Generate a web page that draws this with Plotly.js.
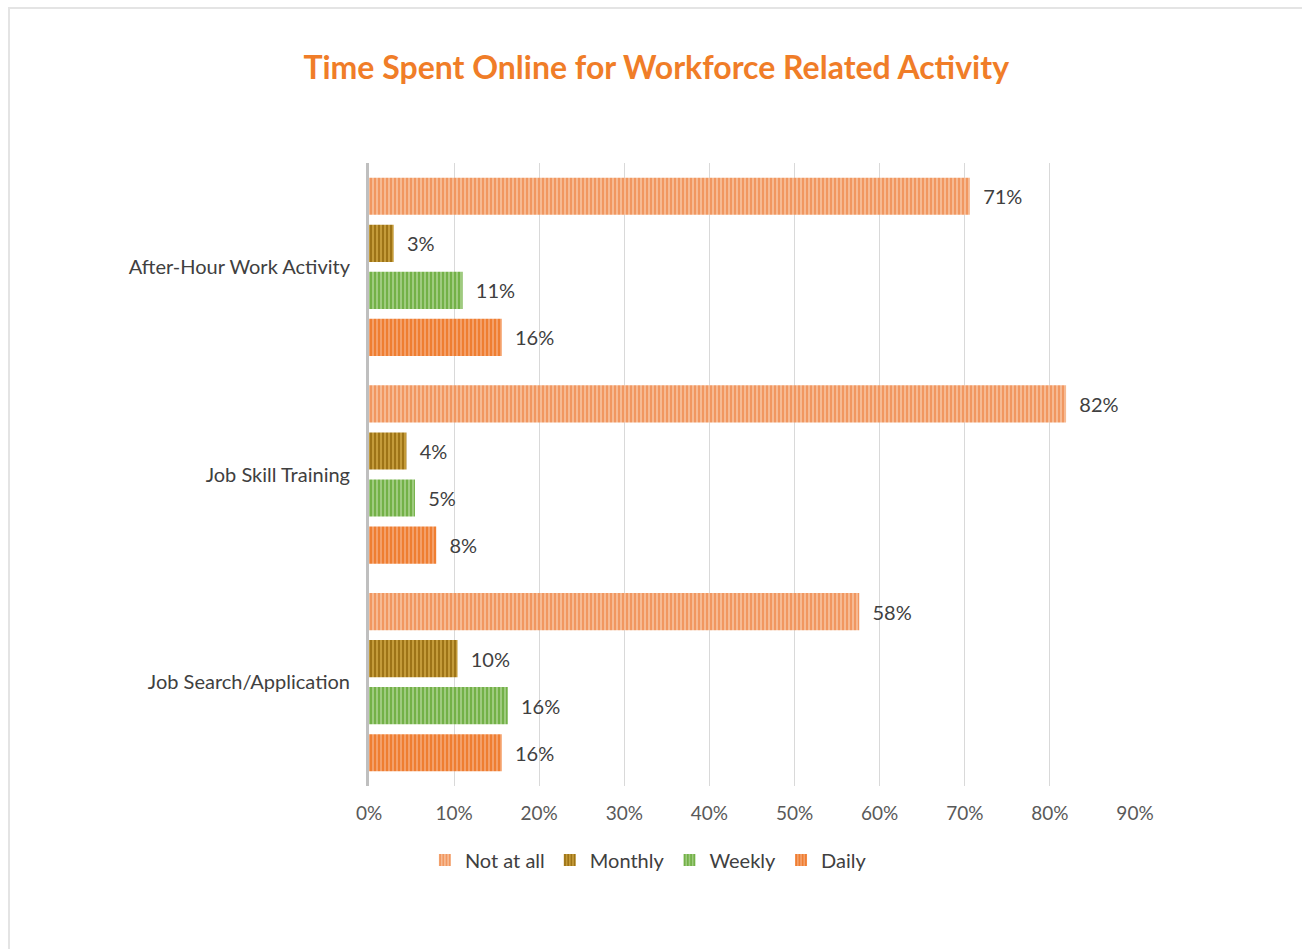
<!DOCTYPE html>
<html>
<head>
<meta charset="utf-8">
<script src="https://cdn.plot.ly/plotly-3.0.1.min.js"></script>
<style>
  html, body { margin: 0; padding: 0; background: #ffffff; overflow: hidden; }
  #chart { width: 1302px; height: 949px; position: absolute; left: 0; top: 0; }
  #frame { position: absolute; left: 8px; top: 7px; width: 1400px; height: 1000px;
           border: 2px solid #e4e4e4; pointer-events: none; }
</style>
</head>
<body>
<div id="chart"></div>
<div id="frame"></div>
<script>
const categories = ["After-Hour Work Activity", "Job Skill Training", "Job Search/Application"];
const seriesNames = ["Not at all", "Monthly", "Weekly", "Daily"];
const notAtAll = [0.706, 0.819, 0.576];
const monthly  = [0.029, 0.044, 0.104];
const weekly   = [0.110, 0.054, 0.163];
const daily    = [0.156, 0.079, 0.156];
const tickVals = [0, 0.1, 0.2, 0.3, 0.4, 0.5, 0.6, 0.7, 0.8, 0.9];
const tickText = ["0%", "10%", "20%", "30%", "40%", "50%", "60%", "70%", "80%", "90%"];

const styles = [
  { bg: "#F6BA93", fg: "#F1935A" },
  { bg: "#C49B3A", fg: "#9A7013" },
  { bg: "#9FCB7F", fg: "#6EAE41" },
  { bg: "#F4A06A", fg: "#EF7A2B" }
];
const seriesValues = [notAtAll, monthly, weekly, daily];
const font = "Lato, 'Open Sans', sans-serif";

const traces = seriesNames.map((name, i) => ({
  type: "bar",
  orientation: "h",
  name: name,
  y: categories,
  x: seriesValues[i],
  texttemplate: "\u00a0\u00a0%{x:.0%}",
  textposition: "outside",
  cliponaxis: false,
  textfont: { family: font, size: 20, color: "#404040" },
  marker: {
    color: styles[i].bg,
    line: { width: 0 },
    pattern: { shape: "|", size: 4, solidity: 0.45, fgcolor: styles[i].fg, bgcolor: styles[i].bg }
  },
  hoverinfo: "x+y+name"
}));

const layout = {
  width: 1302,
  height: 949,
  paper_bgcolor: "#ffffff",
  plot_bgcolor: "#ffffff",
  margin: { l: 369, r: 167, t: 163, b: 163, pad: 0 },
  title: {
    text: "Time Spent Online for Workforce Related Activity",
    font: { family: font, size: 32, color: "#F07D28", weight: "bold" },
    x: 0.504, xanchor: "center", xref: "container",
    y: 1 - 68 / 949, yanchor: "middle", yref: "container"
  },
  barmode: "group",
  bargap: 0.094,
  bargroupgap: 0.21,
  showlegend: true,
  legend: {
    orientation: "h",
    xref: "container", yref: "container",
    x: 0.498, xanchor: "center",
    y: 1 - 860 / 949, yanchor: "middle",
    font: { family: font, size: 20, color: "#404040" },
    itemwidth: 30,
    traceorder: "normal"
  },
  xaxis: {
    range: [0, 0.9],
    tickvals: tickVals,
    ticktext: tickText,
    showgrid: true,
    gridcolor: "#d9d9d9",
    gridwidth: 1,
    zeroline: false,
    showline: false,
    ticks: "",
    ticklabelstandoff: 14,
    tickfont: { family: font, size: 19, color: "#595959" },
    fixedrange: true
  },
  yaxis: {
    type: "category",
    categoryorder: "array",
    categoryarray: categories,
    autorange: "reversed",
    showline: true,
    linecolor: "#bfbfbf",
    linewidth: 3,
    showgrid: false,
    ticks: "",
    ticklabelstandoff: 12,
    tickfont: { family: font, size: 20, color: "#404040" },
    fixedrange: true
  }
};

Plotly.newPlot("chart", traces, layout, { displayModeBar: false, staticPlot: true });
</script>
</body>
</html>
